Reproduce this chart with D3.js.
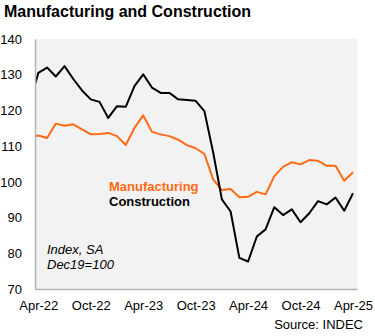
<!DOCTYPE html>
<html>
<head>
<meta charset="utf-8">
<script src="https://cdn.jsdelivr.net/npm/d3@7"></script>
<style>
  body { margin: 0; background: #fff; }
  text { font-family: "Liberation Sans", Arial, sans-serif; }
</style>
</head>
<body>
<svg id="chart" width="375" height="336"></svg>
<script>
// monthly values, Mar-22 .. Apr-25 (Mar-22 sits just left of the plot and gets clipped)
var months = ['Mar-22','Apr-22','May-22','Jun-22','Jul-22','Aug-22','Sep-22','Oct-22','Nov-22','Dec-22',
  'Jan-23','Feb-23','Mar-23','Apr-23','May-23','Jun-23','Jul-23','Aug-23','Sep-23','Oct-23','Nov-23','Dec-23',
  'Jan-24','Feb-24','Mar-24','Apr-24','May-24','Jun-24','Jul-24','Aug-24','Sep-24','Oct-24','Nov-24','Dec-24',
  'Jan-25','Feb-25','Mar-25','Apr-25'];
var manufacturing = [112.5, 113.0, 112.3, 116.3, 115.7, 116.1, 114.7, 113.3, 113.4, 113.7,
  112.8, 110.3, 115.1, 118.6, 114.0, 113.3, 112.8, 111.8, 110.3, 109.4, 107.8, 100.7,
  97.7, 98.0, 95.7, 95.8, 97.2, 96.5, 101.6, 104.2, 105.5, 104.9, 106.1, 105.9,
  104.5, 104.5, 100.3, 102.7];
var construction = [122, 130.5, 132.0, 129.5, 132.4, 128.8, 125.6, 123.1, 122.4, 117.9,
  121.2, 121.0, 126.8, 130.1, 126.4, 124.9, 124.9, 123.1, 122.9, 122.7, 119.8, 108.3,
  95.1, 91.7, 78.7, 77.7, 84.7, 86.7, 92.9, 90.7, 92.3, 88.7, 91.2, 94.6,
  93.7, 95.6, 91.9, 96.8];
var tickMonths = ['Apr-22','Oct-22','Apr-23','Oct-23','Apr-24','Oct-24','Apr-25'];
var yTicks = [70, 80, 90, 100, 110, 120, 130, 140];

var svg = d3.select('#chart'),
  margin = {left: 35, top: 39},
  width = 322,
  height = 250;

svg.append('text')
  .attr('x', 4).attr('y', 17)
  .style('font-size', '16px').style('font-weight', 'bold')
  .text('Manufacturing and Construction');

var g = svg.append('g')
  .attr('transform', 'translate(' + margin.left + ',' + margin.top + ')');

var x = d3.scaleLinear().domain([0.62, 37.46]).range([0, width]);
var y = d3.scaleLinear().domain([70, 140]).range([height, 0]);

g.append('rect')
  .attr('width', width).attr('height', height)
  .attr('fill', '#f2f2f2');

g.append('clipPath').attr('id', 'clip')
  .append('rect').attr('width', width).attr('height', height);

var line = d3.line()
  .x((d, i) => x(i))
  .y(d => y(d));

var lines = g.append('g').attr('clip-path', 'url(#clip)');
lines.append('path')
  .attr('d', line(manufacturing))
  .attr('fill', 'none').attr('stroke', '#ff6a13').attr('stroke-width', 2)
  .attr('stroke-linejoin', 'round');
lines.append('path')
  .attr('d', line(construction))
  .attr('fill', 'none').attr('stroke', '#000').attr('stroke-width', 2)
  .attr('stroke-linejoin', 'round');

var yAxis = g.append('g')
  .call(d3.axisLeft(y).tickValues(yTicks).tickSize(0).tickPadding(13));
var xAxis = g.append('g')
  .attr('transform', 'translate(0,' + height + ')')
  .call(d3.axisBottom(x)
    .tickValues(tickMonths.map(m => months.indexOf(m)))
    .tickFormat(i => months[i])
    .tickSize(0).tickPadding(12));

[yAxis, xAxis].forEach(a => {
  a.select('.domain').attr('stroke', '#b3b3b3').attr('stroke-width', 1.5);
  a.selectAll('text')
    .style('font-family', '"Liberation Sans", Arial, sans-serif')
    .style('font-size', '13px').attr('fill', '#000');
});

// legend labels
g.append('text')
  .attr('x', 74).attr('y', 152)
  .style('font-size', '13px').style('font-weight', 'bold')
  .attr('fill', '#ff6a13')
  .text('Manufacturing');
g.append('text')
  .attr('x', 74).attr('y', 167)
  .style('font-size', '13px').style('font-weight', 'bold')
  .attr('fill', '#000')
  .text('Construction');

// note
g.append('text')
  .attr('x', 12).attr('y', 215)
  .style('font-size', '13px').style('font-style', 'italic')
  .text('Index, SA');
g.append('text')
  .attr('x', 12).attr('y', 230)
  .style('font-size', '13px').style('font-style', 'italic')
  .text('Dec19=100');

svg.append('text')
  .attr('x', 363).attr('y', 329)
  .attr('text-anchor', 'end')
  .style('font-size', '13px')
  .text('Source: INDEC');
</script>
</body>
</html>
